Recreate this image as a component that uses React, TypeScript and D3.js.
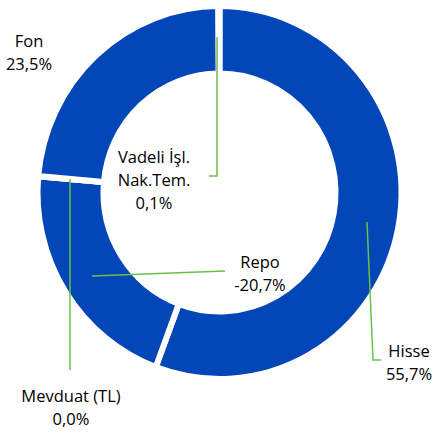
import React from "react";
import * as d3 from "d3";

const categories = ["Hisse", "Repo", "Mevduat (TL)", "Fon", "Vadeli İşl. Nak.Tem."];
const values = [55.7, -20.7, 0.0, 23.5, 0.1];
const labelLines = [
  ["Hisse", "55,7%"],
  ["Repo", "-20,7%"],
  ["Mevduat (TL)", "0,0%"],
  ["Fon", "23,5%"],
  ["Vadeli İşl.", "Nak.Tem.", "0,1%"],
];

const W = 435;
const H = 433;
const cx = 219.5;
const cy = 192.5;
const R = 182;
const r0 = 116;
const sy = 1.025;
const BLUE = "#0346B8";
const GREEN = "#6CBF45";

// label anchor positions (text centre x, first baseline y)
const labelPos: [number, number][] = [
  [409, 357],
  [260, 268],
  [71, 402],
  [29, 47],
  [154, 163],
];
// leader line polylines
const leaders: [number, number][][] = [
  [[367, 222], [373, 360], [381, 360]],
  [[92, 276], [225, 271]],
  [[70, 179], [70, 370]],
  [],
  [[217, 37], [217, 176], [209, 176]],
];

export default function App() {
  const data = categories.map((c, i) => ({ c, v: Math.abs(values[i]) }));
  const pie = d3.pie<{ c: string; v: number }>().value((d) => d.v).sort(null);
  const arcs = pie(data);
  const arc = d3
    .arc<d3.PieArcDatum<{ c: string; v: number }>>()
    .innerRadius(r0)
    .outerRadius(R);
  const line = d3.line();
  return (
    <svg
      width={W}
      height={H}
      style={{ position: "absolute", left: 0, top: 0, background: "#fff" }}
      fontFamily="'Open Sans', sans-serif"
    >
      <g transform={`translate(${cx},${cy}) scale(1,${sy})`}>
        {arcs.map((a, i) => (
          <path
            key={i}
            d={arc(a) || ""}
            fill={BLUE}
            stroke="#fff"
            strokeWidth={6}
            strokeLinejoin="miter"
          />
        ))}
      </g>
      {leaders.map((pts, i) =>
        pts.length ? (
          <path key={i} d={line(pts) || ""} fill="none" stroke={GREEN} strokeWidth={1.5} />
        ) : null
      )}
      {labelLines.map((ls, i) => (
        <text key={i} textAnchor="middle" fontSize={16.5} fill="#000">
          {ls.map((t, j) => (
            <tspan key={j} x={labelPos[i][0]} y={labelPos[i][1] + j * 23}>
              {t}
            </tspan>
          ))}
        </text>
      ))}
    </svg>
  );
}
